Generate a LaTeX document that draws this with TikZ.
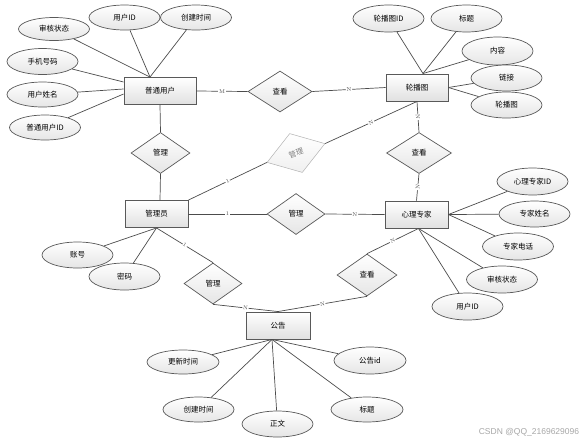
\documentclass[tikz,border=0pt]{standalone}
\usepackage{fontspec}
\newfontfamily\cjk{Noto Sans CJK SC}
\newfontfamily\wmfont{Liberation Sans}
\usetikzlibrary{shapes.geometric,shadows,positioning}

\begin{document}
\begin{tikzpicture}[x=1pt, y=-1pt,
  entity/.style={draw=black!65, line width=0.9pt, top color=white, bottom color=black!12,
                 minimum width=63pt, minimum height=27pt, inner sep=0pt,
                 font=\cjk\fontsize{7.5}{9}\selectfont,
                 drop shadow={shadow xshift=0.8pt, shadow yshift=-0.8pt, opacity=0.25}},
  relation/.style={diamond, draw=black!65, line width=0.7pt, top color=white, bottom color=black!10,
                   minimum width=61pt, minimum height=41pt, inner sep=0pt,
                   font=\cjk\fontsize{7.5}{9}\selectfont},
  attr/.style={ellipse, draw=black!65, line width=0.7pt, top color=white, bottom color=black!10,
               minimum width=71pt, minimum height=26pt, inner sep=0pt,
               font=\cjk\fontsize{7.5}{9}\selectfont},
  link/.style={draw=black!70, line width=0.7pt},
  card/.style={fill=white, inner sep=0.6pt, font=\fontsize{5.5}{6}\selectfont, text=black!70, sloped}
]
\useasboundingbox (0,0) rectangle (584,445);

% entities
\node[entity, minimum width=72pt] (puser) at (160,91) {普通用户};
\node[entity, minimum width=62pt] (banner) at (417,87.5) {轮播图};
\node[entity] (admin) at (156.5,214) {管理员};
\node[entity] (expert) at (416.5,214.5) {心理专家};
\node[entity, minimum width=64pt] (notice) at (278,325.5) {公告};

% relations
\node[relation, minimum width=64pt] (rview1) at (280,91.5) {查看};
\node[relation, minimum width=59pt] (rmgr1) at (160.5,153) {管理};
\node[relation, rotate=18, draw=black!30, line width=0.5pt, text=black!50,
      top color=white, bottom color=black!6] (rmgr2) at (296,153) {管理};
\node[relation, minimum width=58pt] (rmgr3) at (296,214) {管理};
\node[relation, minimum width=65pt] (rview2) at (419,153) {查看};
\node[relation, minimum width=58pt] (rmgr4) at (213,283.5) {管理};
\node[relation, minimum width=60pt, minimum height=42pt] (rview3) at (367,275) {查看};

% attributes of 普通用户
\node[attr, minimum height=23pt] (puStatus) at (54,29) {审核状态};
\node[attr, minimum height=25pt] (puId) at (124.5,17.5) {用户ID};
\node[attr, minimum height=25pt] (puTime) at (196,17.5) {创建时间};
\node[attr] (puPhone) at (42.5,61.5) {手机号码};
\node[attr, minimum height=25pt] (puName) at (42.5,94.5) {用户姓名};
\node[attr, minimum height=25pt] (puNo) at (45,127.5) {普通用户ID};

% attributes of 轮播图
\node[attr, minimum height=27pt] (bnId) at (388.5,18.5) {轮播图ID};
\node[attr, minimum height=27pt] (bnTitle) at (466.5,18.5) {标题};
\node[attr, minimum height=28pt] (bnContent) at (497.5,51) {内容};
\node[attr] (bnLink) at (506.5,78) {链接};
\node[attr] (bnImg) at (506.5,105) {轮播图};

% attributes of 管理员
\node[attr] (adAcct) at (77.5,255) {账号};
\node[attr, minimum height=27pt] (adPwd) at (124.5,276.5) {密码};

% attributes of 心理专家
\node[attr, minimum height=27pt] (exId) at (532.5,181.5) {心理专家ID};
\node[attr] (exName) at (534.5,214) {专家姓名};
\node[attr, minimum height=27pt] (exTel) at (518,246.5) {专家电话};
\node[attr, minimum height=27pt] (exStatus) at (502,279.5) {审核状态};
\node[attr, minimum height=27pt] (exUid) at (467.5,306.5) {用户ID};

% attributes of 公告
\node[attr, minimum height=24pt, minimum width=72pt] (ntUpd) at (183,362) {更新时间};
\node[attr, minimum height=27pt, minimum width=72pt] (ntId) at (370,360.5) {公告id};
\node[attr, minimum height=25pt] (ntTime) at (198.5,409.5) {创建时间};
\node[attr] (ntBody) at (277.5,424) {正文};
\node[attr, minimum height=25pt, minimum width=72pt] (ntTitle) at (367,409.5) {标题};

% attribute links
\foreach \a in {puStatus,puId,puTime}
  \draw[link] (\a) -- ([xshift=-10pt]puser.north);
\draw[link] (puPhone) -- ([yshift=9pt]puser.west);
\draw[link] (puName) -- ([yshift=2pt]puser.west);
\draw[link] (puNo) -- ([yshift=-3pt]puser.west);
\foreach \a in {bnId,bnTitle,bnContent}
  \draw[link] (\a) -- ([xshift=6pt]banner.north);
\foreach \a in {bnLink,bnImg}
  \draw[link] (\a) -- (banner.east);
\foreach \a in {adAcct,adPwd}
  \draw[link] (\a) -- (admin.south);
\foreach \a in {exId,exName,exTel}
  \draw[link] (\a) -- (expert.east);
\foreach \a in {exStatus,exUid}
  \draw[link] (\a) -- ([xshift=2pt]expert.south);
\foreach \a in {ntUpd,ntId,ntTime,ntBody,ntTitle}
  \draw[link] (\a) -- ([xshift=-6pt]notice.south);

% relationship links
\draw[link] (puser.east) -- node[card, sloped=false] {M} (rview1.west);
\draw[link] (rview1.east) -- node[card] {N} (banner.west);
\draw[link] (puser.south) -- (rmgr1.north);
\draw[link] (rmgr1.south) -- ([xshift=3.5pt]admin.north);
\draw[link] (admin.north east) -- node[card] {1} (rmgr2.west);
\draw[link] (rmgr2.east) -- node[card] {N} (banner.south);
\draw[link] (banner.south) -- node[card] {N} (rview2.north);
\draw[link] (rview2.south) -- node[card] {N} (expert.north);
\draw[link] (admin.east) -- node[card] {1} (rmgr3.west);
\draw[link] (rmgr3.east) -- node[card] {N} (expert.west);
\draw[link] (admin.south) -- node[card] {1} (rmgr4.north);
\draw[link] (rmgr4.south) -- node[card] {N} (notice.north);
\draw[link] ([xshift=2pt]expert.south) -- node[card] {N} (rview3.north);
\draw[link] (rview3.south) -- node[card] {N} (notice.north);

% watermark
\node[text=black!35, font=\wmfont\fontsize{8.5}{10}\selectfont] (mark) at (529,432) {CSDN @QQ\_2169629096};
\end{tikzpicture}
\end{document}
